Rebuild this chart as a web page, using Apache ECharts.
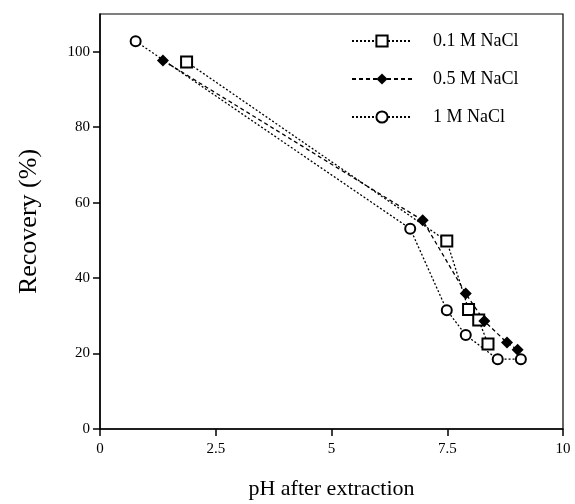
<!DOCTYPE html>
<html>
<head>
<meta charset="utf-8">
<script src="https://cdn.jsdelivr.net/npm/echarts@6/dist/echarts.min.js"></script>
<style>
  html, body { margin: 0; padding: 0; background: #fff; }
  #chart { width: 575px; height: 504px; }
</style>
</head>
<body>
<div id="chart"></div>
<script>
var seriesNames = ['0.1 M NaCl', '0.5 M NaCl', '1 M NaCl'];

// pH after extraction / recovery (%)
var ph01 = [1.87, 7.49, 7.96, 8.18, 8.38];
var rec01 = [97.3, 49.8, 31.7, 28.9, 22.5];

var ph05 = [1.36, 6.97, 7.9, 8.3, 8.79, 9.02];
var rec05 = [97.7, 55.3, 35.9, 28.6, 22.9, 21.0];

var ph1 = [0.77, 6.7, 7.49, 7.9, 8.59, 9.09];
var rec1 = [102.8, 53.1, 31.5, 24.9, 18.5, 18.5];

var xTicks = [0, 2.5, 5, 7.5, 10];
var yTicks = [0, 20, 40, 60, 80, 100];

function pairs(xs, ys) {
    var out = [];
    for (var i = 0; i < xs.length; i++) {
        out.push([xs[i], ys[i]]);
    }
    return out;
}

var font = 'Liberation Serif';
var myChart = echarts.init(document.getElementById('chart'));

var option = {
    animation: false,
    backgroundColor: '#fff',
    grid: {
        left: 100, right: 12, top: 14, bottom: 75,
        outerBoundsMode: 'none',
        containLabel: false,
        show: true, borderColor: '#000', borderWidth: 1.2
    },
    legend: {
        data: seriesNames,
        orient: 'vertical',
        left: 346,
        top: 27,
        itemWidth: 60,
        itemHeight: 14,
        itemGap: 20,
        textStyle: { fontFamily: font, fontSize: 18, color: '#000', padding: [0, 0, 0, 16] }
    },
    xAxis: {
        type: 'value',
        min: 0, max: 10, interval: 2.5,
        name: 'pH after extraction',
        nameLocation: 'middle',
        nameGap: 49,
        nameTextStyle: { fontFamily: font, fontSize: 22, color: '#000' },
        axisLine: { lineStyle: { color: '#000', width: 1.5 } },
        axisTick: { inside: false, length: 7, lineStyle: { color: '#000', width: 1.5 } },
        axisLabel: {
            fontFamily: font, fontSize: 15, color: '#000', margin: 13,
            formatter: function (v) { return xTicks.indexOf(v) >= 0 ? String(v) : ''; }
        },
        splitLine: { show: false }
    },
    yAxis: {
        type: 'value',
        min: 0, max: 110, interval: 20,
        name: 'Recovery (%)',
        nameLocation: 'middle',
        nameGap: 58,
        nameTextStyle: { fontFamily: font, fontSize: 26, color: '#000' },
        axisLine: { lineStyle: { color: '#000', width: 1.5 } },
        axisTick: { inside: false, length: 7, lineStyle: { color: '#000', width: 1.5 } },
        axisLabel: {
            fontFamily: font, fontSize: 15, color: '#000', margin: 10,
            showMaxLabel: false,
            formatter: function (v) { return yTicks.indexOf(v) >= 0 ? String(v) : ''; }
        },
        splitLine: { show: false }
    },
    series: [{
        name: seriesNames[0],
        type: 'line',
        data: pairs(ph01, rec01),
        symbol: 'emptyRect',
        symbolSize: 11,
        itemStyle: { color: '#000', borderWidth: 1.3 },
        lineStyle: { color: '#000', width: 1.3, type: [2, 2] }
    }, {
        name: seriesNames[1],
        type: 'line',
        data: pairs(ph05, rec05),
        symbol: 'diamond',
        symbolSize: 12,
        itemStyle: { color: '#000' },
        lineStyle: { color: '#000', width: 1.3, type: [4, 3] }
    }, {
        name: seriesNames[2],
        type: 'line',
        data: pairs(ph1, rec1),
        symbol: 'emptyCircle',
        symbolSize: 10,
        itemStyle: { color: '#000', borderWidth: 1.3 },
        lineStyle: { color: '#000', width: 1.3, type: [2, 2] }
    }]
};

myChart.setOption(option);
</script>
</body>
</html>
